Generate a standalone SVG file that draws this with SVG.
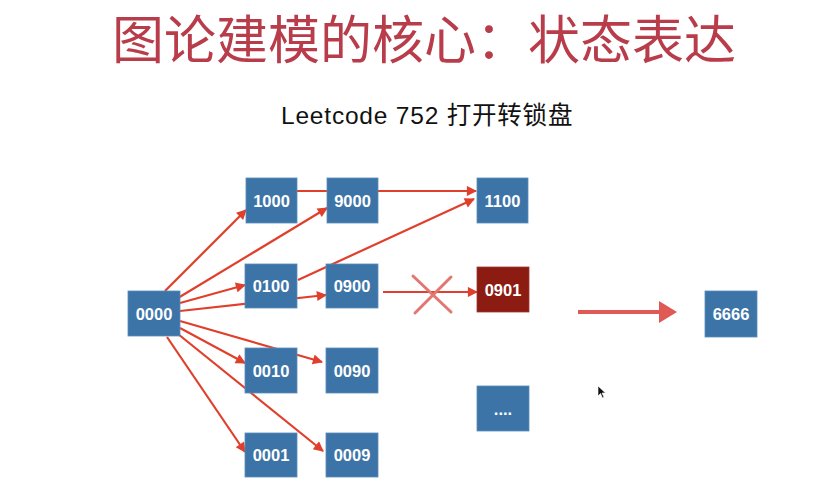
<svg xmlns="http://www.w3.org/2000/svg" width="817" height="496" viewBox="0 0 817 496">
  <style>
    .box { fill: #3d74a8; stroke: #5a8cba; stroke-width: 0.8; }
    .bad { fill: #8c1c12; stroke: #a03a30; stroke-width: 0.8; }
    .lbl { font-family: "Liberation Sans", Arial, sans-serif; font-size: 16.5px; font-weight: bold; fill: #ffffff; text-anchor: middle; }
    .edge { stroke: #e0402b; stroke-width: 2.2; fill: none; marker-end: url(#head); }
  </style>
  <defs>
    <marker id="head" viewBox="0 0 10 10" refX="9" refY="5" markerWidth="5.5" markerHeight="4.6" orient="auto" markerUnits="strokeWidth">
      <path d="M0,0 L10,5 L0,10 Z" fill="#e0402b"/>
    </marker>
  </defs>

  <rect width="817" height="496" fill="#ffffff"/>

  <!-- headings -->
  <text x="424" y="59" font-family="'Noto Sans CJK SC', 'Liberation Sans', sans-serif" font-size="52" fill="#b83c4a" text-anchor="middle">图论建模的核心：状态表达</text>
  <text x="281" y="124" font-family="'Liberation Sans', 'Noto Sans CJK SC', sans-serif" font-size="24.5" letter-spacing="0.8" fill="#111111">Leetcode 752 打开转锁盘</text>

  <!-- connectors -->
  <g id="edges">
    <line class="edge" x1="165" y1="291" x2="246" y2="210"/>
    <line class="edge" x1="178" y1="298" x2="327" y2="208"/>
    <line class="edge" x1="180" y1="303" x2="245" y2="285"/>
    <line class="edge" x1="180" y1="311" x2="326" y2="295"/>
    <line class="edge" x1="180" y1="321" x2="322" y2="362"/>
    <line class="edge" x1="180" y1="328" x2="245" y2="363"/>
    <line class="edge" x1="178" y1="334" x2="323" y2="451"/>
    <line class="edge" x1="167" y1="337" x2="245" y2="452"/>
    <line class="edge" x1="297" y1="191" x2="476" y2="191"/>
    <line class="edge" x1="298" y1="280" x2="474" y2="199"/>
    <line class="edge" x1="383" y1="292" x2="477" y2="292"/>
    <!-- blocked transition -->
    <g stroke="#e47672" stroke-width="3" stroke-linecap="round">
      <line x1="413" y1="276" x2="451" y2="312"/>
      <line x1="451" y1="277" x2="415" y2="313"/>
    </g>
    <!-- jump to target -->
    <line x1="578" y1="312" x2="662" y2="312" stroke="#e05a55" stroke-width="4"/>
    <path d="M659,301 L677,312 L659,323 Z" fill="#e05a55"/>
  </g>

  <!-- nodes -->
  <g id="n0000"><rect class="box" x="128" y="291" width="52" height="45"/><text class="lbl" x="154" y="319.5">0000</text></g>
  <g id="n1000"><rect class="box" x="246" y="178" width="51" height="45"/><text class="lbl" x="271.5" y="206.5">1000</text></g>
  <g id="n9000"><rect class="box" x="327" y="178" width="51" height="45"/><text class="lbl" x="352.5" y="206.5">9000</text></g>
  <g id="n0100"><rect class="box" x="245" y="264" width="52" height="44"/><text class="lbl" x="271" y="292">0100</text></g>
  <g id="n0900"><rect class="box" x="326" y="264" width="52" height="44"/><text class="lbl" x="352" y="292">0900</text></g>
  <g id="n0010"><rect class="box" x="245" y="348" width="52" height="45"/><text class="lbl" x="271" y="376.5">0010</text></g>
  <g id="n0090"><rect class="box" x="326" y="348" width="52" height="45"/><text class="lbl" x="352" y="376.5">0090</text></g>
  <g id="n0001"><rect class="box" x="245" y="433" width="52" height="44"/><text class="lbl" x="271" y="461">0001</text></g>
  <g id="n0009"><rect class="box" x="326" y="433" width="52" height="44"/><text class="lbl" x="352" y="461">0009</text></g>
  <g id="n1100"><rect class="box" x="477" y="178" width="51" height="45"/><text class="lbl" x="502.5" y="206.5">1100</text></g>
  <g id="n0901"><rect class="bad" x="477" y="267" width="52" height="45"/><text class="lbl" x="503" y="295.5">0901</text></g>
  <g id="nmore"><rect class="box" x="477" y="386" width="52" height="45"/><text class="lbl" x="503" y="414.5">....</text></g>
  <g id="n6666"><rect class="box" x="705" y="291" width="52" height="46"/><text class="lbl" x="731" y="320">6666</text></g>

  <!-- pointer -->
  <path d="M598,386 L598,396 L600.5,393.5 L602.5,398 L604,397.3 L602,393 L605.5,393 Z" fill="#111111" stroke="#ffffff" stroke-width="0.6"/>
</svg>
